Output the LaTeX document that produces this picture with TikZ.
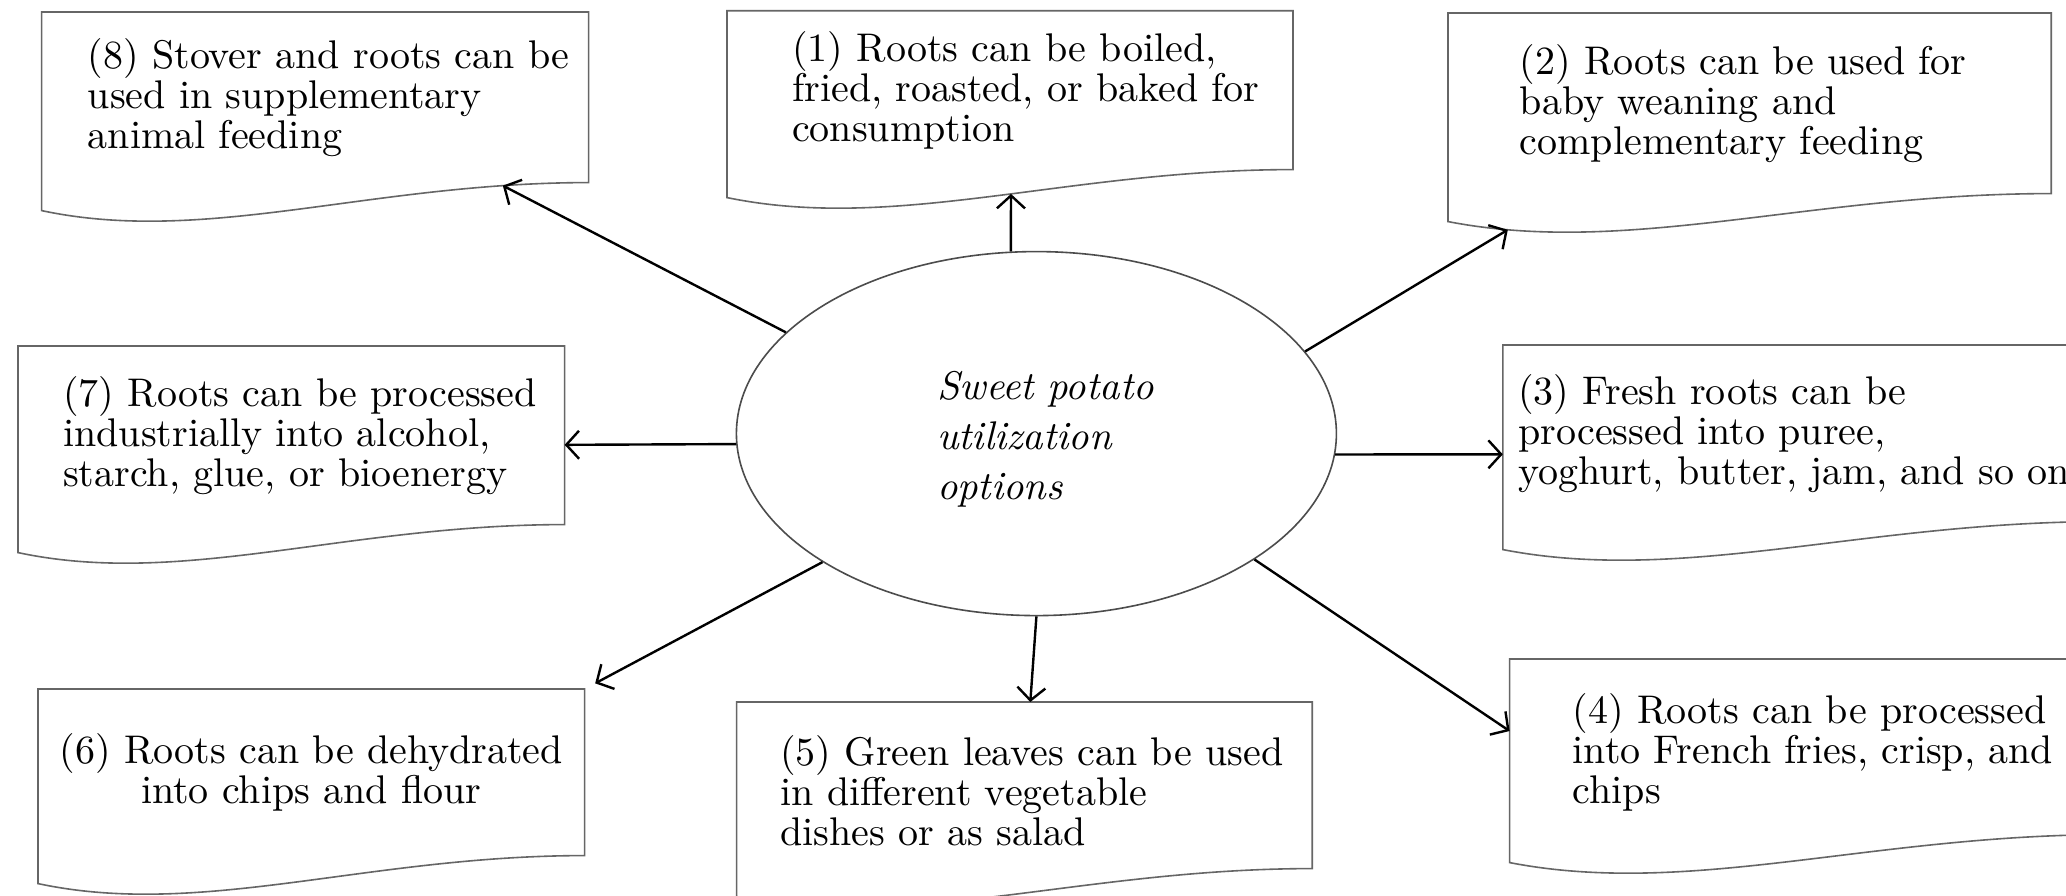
\documentclass[tikz,border=0pt]{standalone}
\usepackage{tikz}
\usetikzlibrary{positioning, shapes.geometric, arrows.meta, calc}

\tikzset{
  doc/.style={rectangle, inner sep=0pt, anchor=north west, align=left,
    font=\fontsize{10}{10}\selectfont},
  lskip/.style={execute at begin node={\leftskip=#1\relax}},
  hub/.style={ellipse, draw=black!70, line width=0.4pt, minimum width=150pt,
    minimum height=91pt, inner sep=0pt, text width=70pt, align=left,
    lskip=10.15pt, text depth=24.3pt, font=\fontsize{10}{12.5}\selectfont\itshape},
  docline/.style={draw=black!60, line width=0.4pt},
  link/.style={-{Straight Barb[length=3.2pt, width=7pt]}, line width=0.6pt}
}

\begin{document}
\begin{tikzpicture}[x=1pt, y=-1pt]
\path[use as bounding box, fill=white] (0,0) rectangle (516.5,224);

% Centre
\node[hub] (ell) at (259.1,108.4) {Sweet potato\\utilization\\options};

% Boxes
\node[doc, text width=141.1pt, minimum height=39.3pt, lskip=16.1pt] (b1) at (181.75,2.7)
  {(1) Roots can be boiled,\\fried, roasted, or baked for\\consumption};
\node[doc, text width=150.4pt, minimum height=44.75pt, lskip=17.75pt] (b2) at (362,3.25)
  {(2) Roots can be used for\\baby weaning and\\complementary feeding};
\node[doc, text width=150pt, minimum height=43.75pt, lskip=3.65pt] (b3) at (375.7,86.25)
  {(3) Fresh roots can be\\processed into puree,\\yoghurt, butter, jam, and so on};
\node[doc, text width=150pt, minimum height=43.5pt, lskip=15.6pt, text depth=19.3pt] (b4) at (377.4,164.75)
  {(4) Roots can be processed\\into French fries, crisp, and\\chips};
\node[doc, text width=143.5pt, minimum height=41.25pt, lskip=10.75pt, text depth=17.4pt] (b5) at (184.15,175.5)
  {(5) Green leaves can be used\\in different vegetable\\dishes or as salad};
\node[doc, text width=136.25pt, minimum height=41.25pt, align=center] (b6) at (9.5,172.25)
  {(6) Roots can be dehydrated\\into chips and flour};
\node[doc, text width=136.25pt, minimum height=44.25pt, lskip=11.1pt] (b7) at (4.5,86.5)
  {(7) Roots can be processed\\industrially into alcohol,\\starch, glue, or bioenergy};
\node[doc, text width=136.35pt, minimum height=42.25pt, lskip=11.35pt] (b8) at (10.4,3)
  {(8) Stover and roots can be\\used in supplementary\\animal feeding};

% Outlines with wavy bottom
\foreach \n/\t in {b1/0.54, b2/0.11, b3/0.5, b4/0.5, b5/0.5, b6/0.5, b7/0.5, b8/0.865}
  \draw[docline] (\n.north west) -- ([yshift=-7pt]\n.south west)
    .. controls ($(\n.south west)!0.3!(\n.south east)+(0,15.75)$)
    and ($(\n.south west)!0.6!(\n.south east)$) .. (\n.south east)
    coordinate[pos=\t] (w\n) -- (\n.north east) -- cycle;

% Arrows
\draw[link] (ell.98) -- (wb1);
\draw[link] (ell.17) -- (wb2);
\draw[link] (ell.356) -- (b3.184);
\draw[link] (ell.330) -- (b4.177);
\draw[link] (ell.270) -- (b5);
\draw[link, shorten >=3pt] (ell.211) -- (b6.north east);
\draw[link] (ell.182) -- (b7.358);
\draw[link] (ell.158) -- (wb8);

\end{tikzpicture}
\end{document}
